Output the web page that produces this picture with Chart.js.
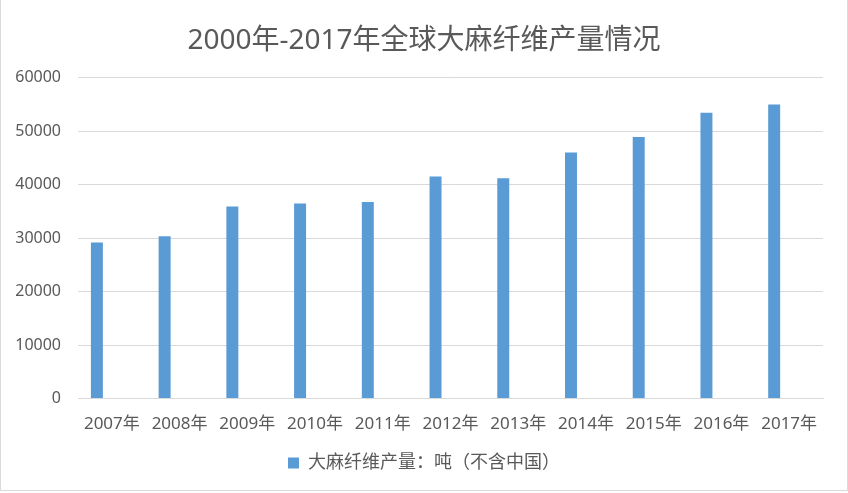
<!DOCTYPE html>
<html><head><meta charset="utf-8">
<script src="https://cdn.jsdelivr.net/npm/chart.js@4/dist/chart.umd.min.js"></script>
<style>
html,body{margin:0;padding:0;background:#fff;}
#wrap{position:absolute;left:0;top:0;width:846px;height:490px;border:1px solid #d9d9d9;border-top:none;}
canvas{display:block;}
</style></head><body>
<div id="wrap"><canvas id="c"></canvas></div>
<script>
const categories = ['2007年','2008年','2009年','2010年','2011年','2012年','2013年','2014年','2015年','2016年','2017年'];
const production = [29200, 30350, 35900, 36450, 36750, 41500, 41200, 46000, 48900, 53450, 54950];
const emptySeries = [null, null, null, null, null, null, null, null, null, null, null];
const seriesName = '大麻纤维产量：吨（不含中国）';
const titleText = '2000年-2017年全球大麻纤维产量情况';
const yTicks = [0, 10000, 20000, 30000, 40000, 50000, 60000];

const FONT = '"Noto Sans", "Noto Sans CJK SC", sans-serif';
new Chart(document.getElementById('c'), {
  type: 'bar',
  data: {
    labels: categories,
    datasets: [
      { label: seriesName, data: production, backgroundColor: '#5b9bd5', borderWidth: 0,
        barPercentage: 0.4, categoryPercentage: 0.884 },
      { label: '', data: emptySeries, backgroundColor: '#ffffff',
        barPercentage: 0.4, categoryPercentage: 0.884 }
    ]
  },
  options: {
    responsive: true, maintainAspectRatio: false, animation: false,
    layout: { padding: { left: 0, right: 0, top: 0, bottom: 8 } },
    plugins: {
      title: { display: true, text: titleText, color: '#595959',
        font: { family: FONT, size: 28, weight: 'normal' }, padding: { top: 24, bottom: 20 } },
      legend: { position: 'bottom',
        labels: { color: '#595959', font: { family: FONT, size: 18 }, boxWidth: 11, boxHeight: 11,
          padding: 5, filter: (item) => item.text !== '' } },
      tooltip: { enabled: false }
    },
    scales: {
      x: {
        grid: { display: false, drawTicks: false },
        border: { display: true, color: '#d9d9d9', width: 1 },
        ticks: { color: '#595959', font: { family: FONT, size: 17 }, padding: 15, maxRotation: 0 }
      },
      y: {
        min: 0, max: 60000,
        afterFit: (s) => { s.width = 77; },
        afterBuildTicks: (s) => { s.ticks = yTicks.map(v => ({ value: v })); },
        grid: { color: '#d9d9d9', lineWidth: 1, drawTicks: false },
        border: { display: false },
        ticks: { color: '#595959', font: { family: FONT, size: 16 }, padding: 17,
          callback: (v) => String(v) }
      },
      yRight: {
        position: 'right', display: true, min: 0, max: 60000,
        afterFit: (s) => { s.width = 24; },
        grid: { display: false, drawTicks: false },
        border: { display: false },
        ticks: { display: false }
      }
    }
  }
});
</script></body></html>
